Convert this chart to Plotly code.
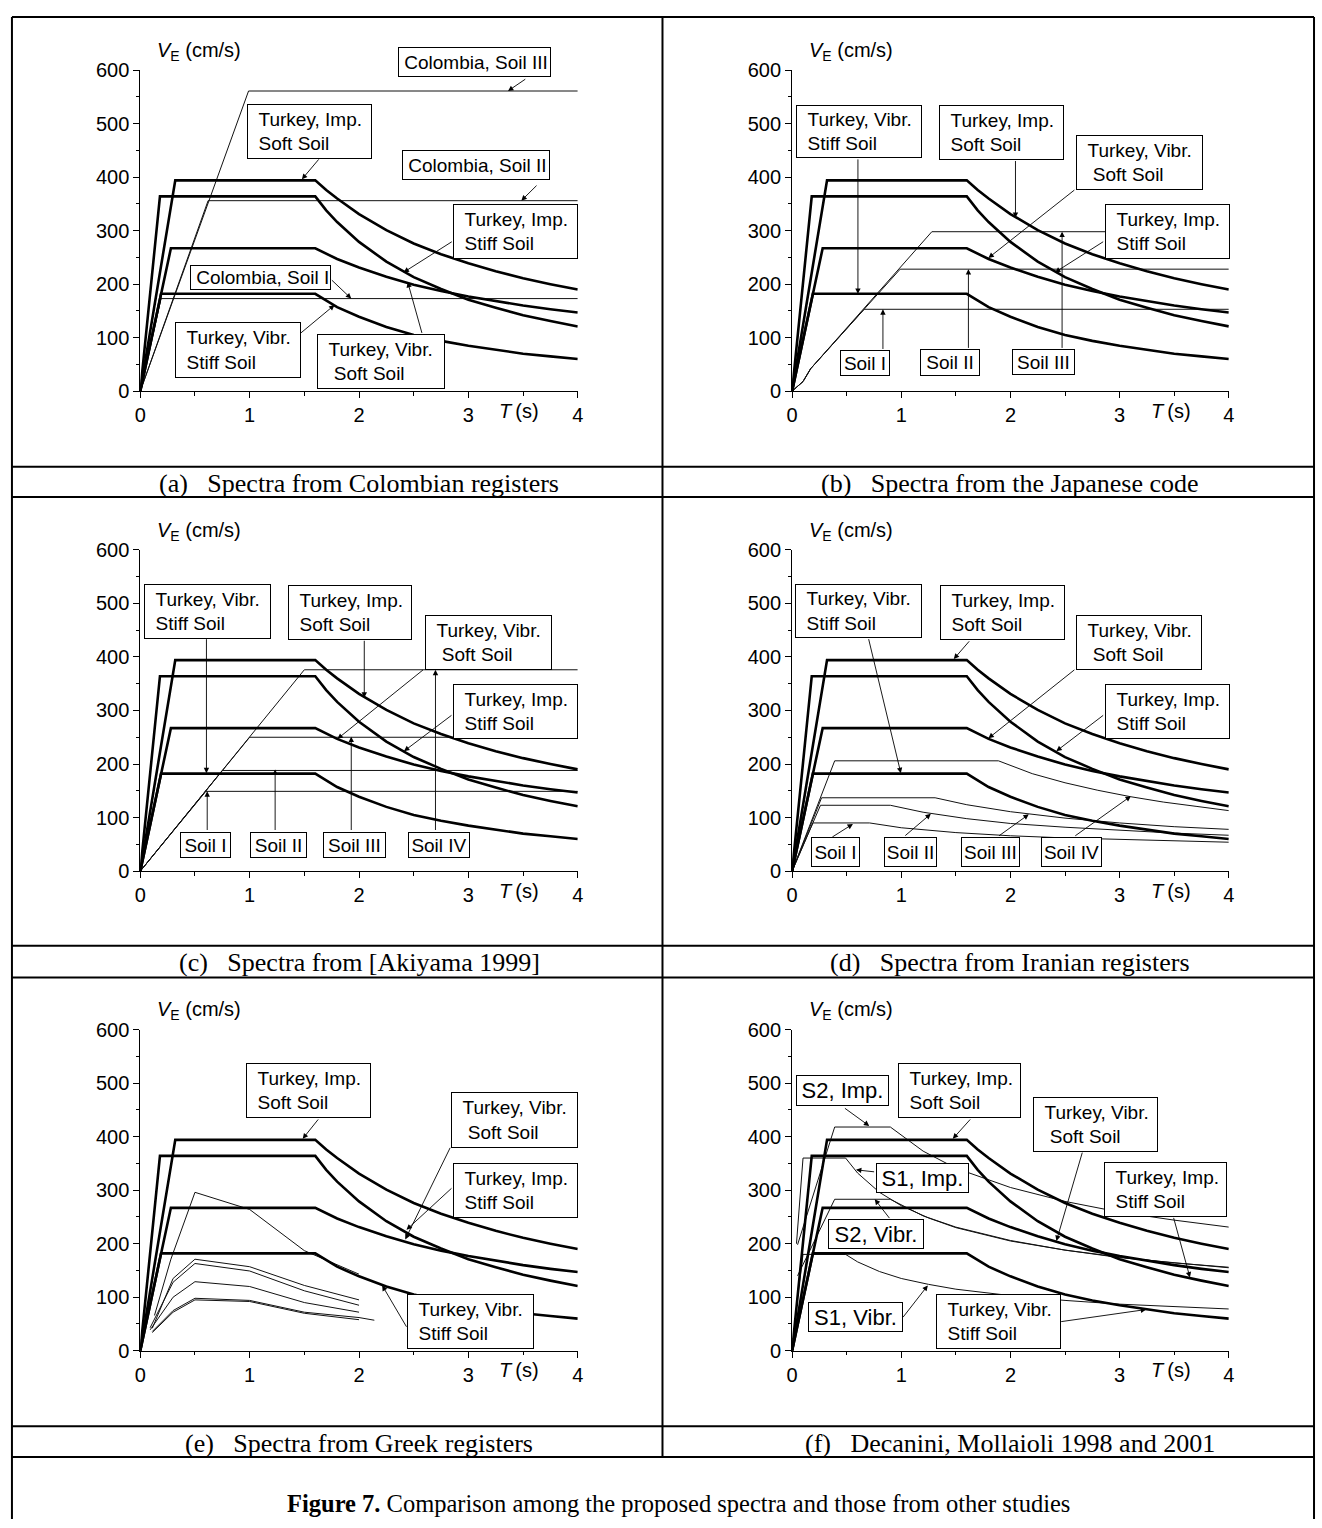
import plotly.graph_objects as go

W, H = 1322, 1528
SANS = "Liberation Sans, Arial, sans-serif"
SERIF = "Liberation Serif, Times New Roman, serif"

# ---------------- data (T in s, V_E in cm/s) ----------------
# Turkey spectra (shown in every panel)
TUR_IMP_SOFT_T = [0, 0.32, 1.6, 1.7, 1.8, 2.0, 2.25, 2.5, 2.75, 3.0, 3.25, 3.5, 3.75, 4.0]
TUR_IMP_SOFT_V = [0, 394, 394, 376, 360, 331, 301, 276, 256, 239, 224, 211, 200, 190]
TUR_IMP_STIFF_T = [0, 0.18, 1.6, 1.7, 1.8, 2.0, 2.25, 2.5, 2.75, 3.0, 3.25, 3.5, 3.75, 4.0]
TUR_IMP_STIFF_V = [0, 364, 364, 338, 316, 279, 242, 213, 191, 171, 156, 142, 131, 121]
TUR_VIB_SOFT_T = [0, 0.28, 1.6, 1.7, 1.8, 2.0, 2.25, 2.5, 2.75, 3.0, 3.25, 3.5, 3.75, 4.0]
TUR_VIB_SOFT_V = [0, 267, 267, 257, 247, 231, 214, 199, 187, 177, 168, 160, 153, 147]
TUR_VIB_STIFF_T = [0, 0.19, 1.6, 1.7, 1.8, 2.0, 2.25, 2.5, 2.75, 3.0, 3.25, 3.5, 3.75, 4.0]
TUR_VIB_STIFF_V = [0, 182, 182, 169, 157, 139, 120, 105, 94, 85, 77, 70, 65, 60]

# (a) Colombia
COL_S1_T = [0, 0.19, 4.0]
COL_S1_V = [0, 173, 173]
COL_S2_T = [0, 0.62, 4.0]
COL_S2_V = [0, 356, 356]
COL_S3_T = [0, 0.99, 4.0]
COL_S3_V = [0, 561, 561]

# (b) Japanese code
JP_S1_T = [0, 0.1, 0.17, 0.66, 4.0]
JP_S1_V = [0, 18, 42, 153, 153]
JP_S2_T = [0, 0.1, 0.17, 0.99, 4.0]
JP_S2_V = [0, 18, 42, 228, 228]
JP_S3_T = [0, 0.1, 0.17, 1.28, 4.0]
JP_S3_V = [0, 18, 42, 298, 298]

# (c) Akiyama 1999
AK_S1_T = [0, 0.6, 4.0]
AK_S1_V = [0, 149, 149]
AK_S2_T = [0, 0.75, 4.0]
AK_S2_V = [0, 188, 188]
AK_S3_T = [0, 1.0, 4.0]
AK_S3_V = [0, 250, 250]
AK_S4_T = [0, 1.5, 4.0]
AK_S4_V = [0, 376, 376]

# (d) Iran
IR_S1_T = [0, 0.19, 0.71, 1.0, 1.5, 2.0, 2.5, 3.0, 3.5, 4.0]
IR_S1_V = [0, 90, 90, 81, 72, 66, 62, 59, 56, 54]
IR_S2_T = [0, 0.26, 0.9, 1.2, 1.6, 2.0, 2.5, 3.0, 3.5, 4.0]
IR_S2_V = [0, 123, 123, 110, 98, 89, 82, 76, 71, 67]
IR_S3_T = [0, 0.27, 1.31, 1.6, 2.0, 2.5, 3.0, 3.5, 4.0]
IR_S3_V = [0, 137, 137, 124, 111, 99, 90, 83, 78]
IR_S4_T = [0, 0.39, 1.89, 2.2, 2.5, 2.8, 3.1, 3.4, 3.7, 4.0]
IR_S4_V = [0, 206, 206, 182, 165, 151, 139, 129, 121, 113]

# (e) Greece
GR1_T = [0.13, 0.28, 0.5, 1.0, 1.5, 2.0]
GR1_V = [66, 171, 296, 264, 187, 143]
GR2_T = [0.11, 0.3, 0.5, 1.0, 1.5, 2.0]
GR2_V = [42, 135, 171, 157, 122, 95]
GR3_T = [0.09, 0.3, 0.5, 1.0, 1.5, 2.0]
GR3_V = [43, 128, 163, 149, 112, 85]
GR4_T = [0.09, 0.3, 0.5, 1.0, 1.5, 2.0]
GR4_V = [39, 100, 129, 120, 90, 72]
GR5_T = [0.11, 0.3, 0.5, 1.0, 1.5, 2.0, 2.14]
GR5_V = [36, 75, 98, 94, 72, 62, 57]
GR6_T = [0.11, 0.3, 0.5, 1.0, 1.5, 2.0]
GR6_V = [34, 72, 95, 92, 70, 58]

# (f) Decanini, Mollaioli
DM_S2_IMP_T = [0.05, 0.39, 0.9, 1.2, 1.5, 2.0, 2.5, 3.0, 3.5, 4.0]
DM_S2_IMP_V = [198, 418, 418, 373, 341, 305, 279, 259, 244, 231]
DM_S1_IMP_T = [0.04, 0.1, 0.49, 0.6, 0.8, 1.0, 1.25, 1.5, 2.0, 2.5, 3.0, 3.5, 4.0]
DM_S1_IMP_V = [200, 360, 360, 332, 296, 271, 248, 230, 205, 188, 174, 164, 155]
DM_S2_VIB_T = [0.05, 0.39, 0.9, 1.2, 1.5, 2.0, 2.5, 3.0, 3.5, 4.0]
DM_S2_VIB_V = [140, 283, 283, 252, 231, 206, 188, 175, 164, 156]
DM_S1_VIB_T = [0.05, 0.1, 0.49, 0.6, 0.8, 1.0, 1.25, 1.5, 2.0, 2.5, 3.0, 3.5, 4.0]
DM_S1_VIB_V = [100, 180, 180, 166, 148, 135, 124, 115, 103, 94, 87, 82, 78]

X_TICKS = [0, 1, 2, 3, 4]
X_MINOR = [0.5, 1.5, 2.5, 3.5]
Y_TICKS = [0, 100, 200, 300, 400, 500, 600]
Y_MINOR = [50, 150, 250, 350, 450, 550]

CAPTIONS = [
    "(a)\u2002 Spectra from Colombian registers",
    "(b)\u2002 Spectra from the Japanese code",
    "(c)\u2002 Spectra from [Akiyama 1999]",
    "(d)\u2002 Spectra from Iranian registers",
    "(e)\u2002 Spectra from Greek registers",
    "(f)\u2002 Decanini, Mollaioli 1998 and 2001",
]
FIG_CAPTION = "<b>Figure 7.</b> Comparison among the proposed spectra and those from other studies"

THIN = [
    [(COL_S1_T, COL_S1_V), (COL_S2_T, COL_S2_V), (COL_S3_T, COL_S3_V)],
    [(JP_S1_T, JP_S1_V), (JP_S2_T, JP_S2_V), (JP_S3_T, JP_S3_V)],
    [(AK_S1_T, AK_S1_V), (AK_S2_T, AK_S2_V), (AK_S3_T, AK_S3_V), (AK_S4_T, AK_S4_V)],
    [(IR_S1_T, IR_S1_V), (IR_S2_T, IR_S2_V), (IR_S3_T, IR_S3_V), (IR_S4_T, IR_S4_V)],
    [(GR1_T, GR1_V), (GR2_T, GR2_V), (GR3_T, GR3_V), (GR4_T, GR4_V), (GR5_T, GR5_V), (GR6_T, GR6_V)],
    [(DM_S2_IMP_T, DM_S2_IMP_V), (DM_S1_IMP_T, DM_S1_IMP_V), (DM_S2_VIB_T, DM_S2_VIB_V), (DM_S1_VIB_T, DM_S1_VIB_V)],
]
BOLD = [(TUR_IMP_SOFT_T, TUR_IMP_SOFT_V), (TUR_IMP_STIFF_T, TUR_IMP_STIFF_V),
        (TUR_VIB_SOFT_T, TUR_VIB_SOFT_V), (TUR_VIB_STIFF_T, TUR_VIB_STIFF_V)]

# ---------------- label boxes & arrows (layout) ----------------
NB = "\u00a0"
IMP_SOFT = NB * 2 + "Turkey, Imp.<br>" + NB * 2 + "Soft Soil"
IMP_STIFF = NB * 2 + "Turkey, Imp.<br>" + NB * 2 + "Stiff Soil"
VIB_SOFT = NB * 2 + "Turkey, Vibr.<br>" + NB * 3 + "Soft Soil"
VIB_STIFF = NB * 2 + "Turkey, Vibr.<br>" + NB * 2 + "Stiff Soil"

# (text, T_left, V_top, width_px, height_px, font_size, align)
BOXES = [
    [(NB + "Colombia, Soil III", 2.361, 644, 153, 30, 19, "left"),
     (IMP_SOFT, 0.974, 537, 125, 55, 19, "left"),
     (NB + "Colombia, Soil II", 2.395, 451, 148, 30, 19, "left"),
     (IMP_STIFF, 2.861, 350, 125, 55, 19, "left"),
     (NB + "Colombia, Soil I", 0.458, 235, 141, 25, 19, "left"),
     (VIB_STIFF, 0.313, 130, 126, 56, 19, "left"),
     (VIB_SOFT, 1.612, 106, 128, 55, 19, "left")],
    [(VIB_STIFF, 0.038, 534, 126, 53, 19, "left"),
     (IMP_SOFT, 1.347, 534, 125, 55, 19, "left"),
     (VIB_SOFT, 2.599, 479, 127, 55, 19, "left"),
     (IMP_STIFF, 2.863, 350, 125, 55, 19, "left"),
     ("Soil I", 0.439, 76, 50, 26, 19, "center"),
     ("Soil II", 1.176, 78, 60, 27, 19, "center"),
     ("Soil III", 2.015, 78, 63, 26, 19, "center")],
    [(VIB_STIFF, 0.031, 537, 127, 55, 19, "left"),
     (IMP_SOFT, 1.355, 534, 124, 55, 19, "left"),
     (VIB_SOFT, 2.599, 479, 127, 55, 19, "left"),
     (IMP_STIFF, 2.859, 350, 125, 55, 19, "left"),
     ("Soil I", 0.36, 74, 51, 26, 19, "center"),
     ("Soil II", 1.003, 74, 57, 26, 19, "center"),
     ("Soil III", 1.673, 74, 63, 26, 19, "center"),
     ("Soil IV", 2.45, 74, 62, 26, 19, "center")],
    [(VIB_STIFF, 0.031, 536, 127, 54, 19, "left"),
     (IMP_SOFT, 1.355, 534, 125, 55, 19, "left"),
     (VIB_SOFT, 2.599, 479, 126, 55, 19, "left"),
     (IMP_STIFF, 2.863, 350, 125, 55, 19, "left"),
     ("Soil I", 0.176, 64, 49, 30, 19, "center"),
     ("Soil II", 0.844, 64, 53, 30, 19, "center"),
     ("Soil III", 1.55, 64, 59, 30, 19, "center"),
     ("Soil IV", 2.279, 64, 61, 30, 19, "center")],
    [(IMP_SOFT, 0.965, 538, 125, 55, 19, "left"),
     (VIB_SOFT, 2.84, 484, 127, 56, 19, "left"),
     (IMP_STIFF, 2.859, 350, 125, 55, 19, "left"),
     (VIB_STIFF, 2.442, 106, 127, 55, 19, "left")],
    [("S2, Imp.", 0.038, 515, 93, 31, 22, "center"),
     (IMP_SOFT, 0.967, 538, 123, 55, 19, "left"),
     (VIB_SOFT, 2.207, 474, 125, 55, 19, "left"),
     (IMP_STIFF, 2.86, 352, 123, 55, 19, "left"),
     ("S1, Imp.", 0.765, 351, 93, 30, 22, "center"),
     ("S2, Vibr.", 0.329, 246, 96, 30, 22, "center"),
     ("S1, Vibr.", 0.145, 91, 95, 30, 22, "center"),
     (VIB_STIFF, 1.316, 106, 125, 55, 19, "left")],
]

# (head_T, head_V, tail_T, tail_V)
ARROWS = [
    [(3.362, 561, 3.534, 585), (1.478, 396, 1.643, 436), (3.484, 356, 3.637, 387),
     (2.407, 222, 2.862, 281), (1.929, 173, 1.738, 210), (1.776, 161, 1.452, 106),
     (2.445, 204, 2.579, 106)],
    [(0.603, 182, 0.603, 436), (2.046, 324, 2.046, 433), (1.798, 249, 2.599, 378),
     (2.408, 222, 2.863, 281), (0.832, 153, 0.832, 76), (1.615, 228, 1.615, 78),
     (2.473, 298, 2.473, 78)],
    [(0.605, 183, 0.605, 436), (2.048, 324, 2.048, 433), (1.803, 247, 2.599, 378),
     (2.411, 224, 2.859, 293), (0.612, 149, 0.612, 74), (1.233, 190, 1.233, 74),
     (1.929, 251, 1.929, 74), (2.699, 376, 2.699, 74)],
    [(0.996, 183, 0.698, 436), (1.481, 396, 1.634, 432), (1.798, 248, 2.599, 378),
     (2.42, 224, 2.863, 293), (0.557, 88, 0.355, 62), (1.271, 107, 1.023, 64),
     (2.168, 106, 1.882, 64), (3.103, 140, 2.58, 64)],
    [(1.485, 396, 1.638, 435), (2.423, 208, 2.84, 382), (2.434, 226, 2.859, 306),
     (2.212, 122, 2.442, 42)],
    [(0.707, 420, 0.47, 455), (1.472, 396, 1.644, 435), (2.421, 205, 2.662, 373),
     (3.644, 137, 3.491, 251), (0.585, 338, 0.765, 334), (0.757, 283, 0.902, 245),
     (1.243, 122, 1.006, 60), (3.243, 77, 2.451, 54)],
]

# ---------------- geometry (pixels) ----------------
COLS = [(135.5, 577.0), (793.3, 1234.0)]
ROWS = [(60.0, 385.7), (546.7, 872.7), (1033.5, 1359.3)]
CAP_Y = [479, 965, 1453]
H_LINES = [6, 462.5, 493, 948.5, 980.5, 1436, 1467]
X_LEFT, X_RIGHT, X_MID = 6, 1320, 662.5


def px(x):
    return x / W


def py(y):
    return 1 - y / H


fig = go.Figure()
layout = dict(width=W, height=H, margin=dict(l=0, r=0, t=0, b=0),
              paper_bgcolor="white", plot_bgcolor="white", showlegend=False)
annotations = []
shapes = []

for i in range(6):
    r, c = divmod(i, 2)
    xl, xr = COLS[c]
    yt, yb = ROWS[r]
    sfx = "" if i == 0 else str(i + 1)
    tickfont = dict(family=SANS, size=20, color="black")
    layout["xaxis" + sfx] = dict(
        domain=[px(xl), px(xr)], range=[0, 4], anchor="y" + sfx,
        showline=True, linecolor="black", linewidth=1, showgrid=False, zeroline=False,
        ticks="outside", ticklen=6, tickwidth=1, tickcolor="black", tickvals=X_TICKS,
        minor=dict(tickvals=X_MINOR, ticks="outside", ticklen=3.5, tickwidth=1, tickcolor="black"),
        tickfont=tickfont, fixedrange=True)
    layout["yaxis" + sfx] = dict(
        domain=[py(yb), py(yt)], range=[0, 600], anchor="x" + sfx,
        showline=True, linecolor="black", linewidth=1, showgrid=False, zeroline=False,
        ticks="outside", ticklen=6, tickwidth=1, tickcolor="black", tickvals=Y_TICKS,
        minor=dict(tickvals=Y_MINOR, ticks="outside", ticklen=3.5, tickwidth=1, tickcolor="black"),
        tickfont=tickfont, fixedrange=True)

    for tx, vy in THIN[i]:
        fig.add_trace(go.Scatter(x=tx, y=vy, mode="lines", xaxis="x" + sfx, yaxis="y" + sfx,
                                 line=dict(color="#111111", width=1), hoverinfo="skip"))
    for tx, vy in BOLD:
        fig.add_trace(go.Scatter(x=tx, y=vy, mode="lines", xaxis="x" + sfx, yaxis="y" + sfx,
                                 line=dict(color="black", width=2.6), hoverinfo="skip"))

    # arrows
    for hx, hy, tx, ty in ARROWS[i]:
        annotations.append(dict(
            xref="x" + sfx, yref="y" + sfx, axref="x" + sfx, ayref="y" + sfx,
            x=hx, y=hy, ax=tx, ay=ty, text="", showarrow=True,
            arrowhead=2, arrowsize=1.2, arrowwidth=0.9, arrowcolor="black",
            standoff=0, startstandoff=0))
    # boxes (placed in page coordinates so boxes above the 600 line stay visible)
    for text, bx, by, bw, bh, fs, al in BOXES[i]:
        bx_px = xl + bx / 4.0 * (xr - xl)
        by_px = yb - by / 600.0 * (yb - yt)
        annotations.append(dict(
            xref="paper", yref="paper", x=px(bx_px), y=py(by_px), xanchor="left", yanchor="top",
            text=text, showarrow=False, width=bw - 2, height=bh - 2,
            borderpad=0, borderwidth=1, bordercolor="black", bgcolor="white",
            align=al, valign="middle", font=dict(family=SANS, size=fs, color="black")))

    # axis titles
    annotations.append(dict(
        xref="paper", yref="paper", x=px(xl + 15), y=py(yt - 19), xanchor="left", yanchor="middle",
        text="<i>V</i><sub>E</sub> (cm/s)", showarrow=False,
        font=dict(family=SANS, size=20, color="black")))
    annotations.append(dict(
        xref="paper", yref="paper", x=px(xl + 360), y=py(yb + 20), xanchor="left", yanchor="middle",
        text="<i>T</i>\u2009(s)", showarrow=False,
        font=dict(family=SANS, size=20, color="black")))
    # caption
    annotations.append(dict(
        xref="paper", yref="paper", x=px((xl + xr) / 2), y=py(CAP_Y[r]), xanchor="center",
        yanchor="middle", text=CAPTIONS[i], showarrow=False,
        font=dict(family=SERIF, size=26, color="black")))

annotations.append(dict(
    xref="paper", yref="paper", x=px(679), y=py(1514), xanchor="center", yanchor="middle",
    text=FIG_CAPTION, showarrow=False, font=dict(family=SERIF, size=24.5, color="black")))

# table rules
line = dict(color="black", width=2)
for yy in H_LINES:
    shapes.append(dict(type="line", xref="paper", yref="paper", x0=px(X_LEFT), x1=px(X_RIGHT),
                       y0=py(yy), y1=py(yy), line=line))
shapes.append(dict(type="line", xref="paper", yref="paper", x0=px(X_LEFT), x1=px(X_LEFT),
                   y0=py(6), y1=py(H + 2), line=line))
shapes.append(dict(type="line", xref="paper", yref="paper", x0=px(X_RIGHT), x1=px(X_RIGHT),
                   y0=py(6), y1=py(H + 2), line=line))
shapes.append(dict(type="line", xref="paper", yref="paper", x0=px(X_MID), x1=px(X_MID),
                   y0=py(6), y1=py(1467), line=line))

layout["annotations"] = annotations
layout["shapes"] = shapes
fig.update_layout(**layout)
fig.write_html("out.html", config={"displayModeBar": False},
               post_script="document.body.style.margin='0';document.body.style.overflow='hidden';")
